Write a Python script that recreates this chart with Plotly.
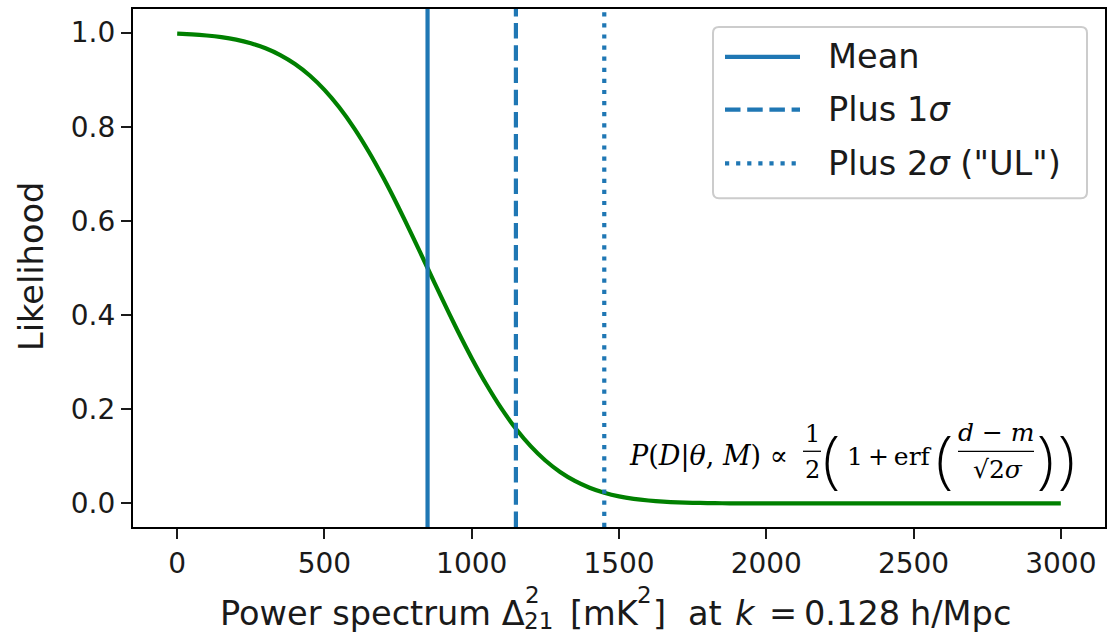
import plotly.graph_objects as go

# Likelihood curve samples
power = [0, 50, 100, 150, 200, 250, 300, 350, 400, 450, 500, 550, 600, 650, 700, 750,
         800, 850, 900, 950, 1000, 1050, 1100, 1150, 1200, 1250, 1300, 1350, 1400, 1450,
         1500, 1550, 1600, 1650, 1700, 1750, 1800, 1850, 1900, 2000, 2200, 2400, 2600,
         2800, 3000]
likelihood = [0.9977, 0.9962, 0.9938, 0.9902, 0.9849, 0.9772, 0.9666, 0.9522, 0.9332,
              0.9088, 0.8783, 0.8413, 0.7977, 0.7475, 0.6915, 0.6306, 0.5662, 0.5000,
              0.4338, 0.3694, 0.3085, 0.2525, 0.2023, 0.1587, 0.1217, 0.0912, 0.0668,
              0.0478, 0.0334, 0.0228, 0.0151, 0.0098, 0.0062, 0.0038, 0.0023, 0.0013,
              0.0008, 0.0004, 0.0002, 0.0001, 0.0, 0.0, 0.0, 0.0, 0.0]

# Reference lines
line_names = ["Mean", "Plus 1<i>σ</i>", 'Plus 2<i>σ</i> ("UL")']
line_values = [850, 1150, 1450]
line_dashes = ["solid", "15.5px,6.7px", "4.2px,6.9px"]

x_ticks = [0, 500, 1000, 1500, 2000, 2500, 3000]
y_ticks = [0.0, 0.2, 0.4, 0.6, 0.8, 1.0]
y_tick_text = ["0.0", "0.2", "0.4", "0.6", "0.8", "1.0"]

BLUE = "#1f77b4"
GREEN = "#008000"
INK = "#1a1a1a"
FONT = "DejaVu Sans"
SERIF = "DejaVu Serif"
PAREN = "Open Sans"
TICK_SIZE = 28
LABEL_SIZE = 33.6
SCRIPT_SIZE = 23
LW = 4.2
THIN = "\u2009"

W, H = 1115, 637
L, R, T, B = 133, 10, 7, 110
PW, PH = W - L - R, H - T - B


def px(x):
    return (x - L) / PW


def py(y):
    return 1 - (y - T) / PH


fig = go.Figure()
fig.add_trace(go.Scatter(x=power, y=likelihood, mode="lines",
                         line=dict(color=GREEN, width=LW, shape="spline", smoothing=0.6),
                         showlegend=False, hoverinfo="skip"))

shapes = []
for v, d in zip(line_values, line_dashes):
    shapes.append(dict(type="line", xref="x", yref="y domain", x0=v, x1=v, y0=0, y1=1,
                       line=dict(color=BLUE, width=LW, dash=d)))

# Legend frame with rounded corners
x0, x1, y0, y1 = 713, 1087, 25, 197
r = 6
path = (f"M {px(x0 + r)},{py(y0)} L {px(x1 - r)},{py(y0)} "
        f"Q {px(x1)},{py(y0)} {px(x1)},{py(y0 + r)} L {px(x1)},{py(y1 - r)} "
        f"Q {px(x1)},{py(y1)} {px(x1 - r)},{py(y1)} L {px(x0 + r)},{py(y1)} "
        f"Q {px(x0)},{py(y1)} {px(x0)},{py(y1 - r)} L {px(x0)},{py(y0 + r)} "
        f"Q {px(x0)},{py(y0)} {px(x0 + r)},{py(y0)} Z")
shapes.append(dict(type="path", xref="paper", yref="paper", path=path,
                   fillcolor="rgba(255,255,255,0.8)", line=dict(color="#cccccc", width=2)))

annotations = []
legend_rows = [55, 108, 162]
for name, d, yy in zip(line_names, line_dashes, legend_rows):
    shapes.append(dict(type="line", xref="paper", yref="paper", x0=px(725), x1=px(800),
                       y0=py(yy), y1=py(yy), line=dict(color=BLUE, width=LW, dash=d)))
    annotations.append(dict(xref="paper", yref="paper", x=px(826), y=py(yy), text=name,
                            showarrow=False, xanchor="left", yanchor="middle",
                            font=dict(family=FONT, size=LABEL_SIZE, color=INK)))


def label(x, y, text, size=27, family=SERIF, anchor="center", weight="normal", angle=0,
          color="black"):
    annotations.append(dict(xref="paper", yref="paper", x=px(x), y=py(y), text=text,
                            showarrow=False, xanchor=anchor, yanchor="middle",
                            textangle=angle,
                            font=dict(family=family, size=size, color=color,
                                      weight=weight)))


def rule(xa, xb, y):
    shapes.append(dict(type="line", xref="paper", yref="paper", x0=px(xa), x1=px(xb),
                       y0=py(y), y1=py(y), line=dict(color="black", width=1.3)))


# Likelihood formula
label(627, 456, "<i>P</i>(<i>D</i>|<i>θ</i>, <i>M</i>) ∝", anchor="left")
label(812, 434, "1", size=24)
rule(803, 821, 451)
label(812, 470, "2", size=24)
label(831, 457, "(", size=62, family=PAREN, weight=300)
label(845, 456, f"1{THIN}+{THIN}erf", size=25, anchor="left")
label(944, 457, "(", size=62, family=PAREN, weight=300)
label(996, 432, "<i>d</i> − <i>m</i>", size=25)
rule(958, 1034, 451)
label(998, 469, "√2<i>σ</i>", size=25)
label(1045, 457, ")", size=62, family=PAREN, weight=300)
label(1066, 457, ")", size=62, family=PAREN, weight=300)

# x-axis title, set piece by piece so the scripts stack and spacing follows math layout
x_title = [
    (218, 614, "Power spectrum Δ", LABEL_SIZE),
    (523, 595, "2", SCRIPT_SIZE),
    (522, 621, "21", SCRIPT_SIZE),
    (568, 614, "[mK", LABEL_SIZE),
    (635, 595, "2", SCRIPT_SIZE),
    (651, 614, "]", LABEL_SIZE),
    (686, 614, "at", LABEL_SIZE),
    (733, 614, "<i>k</i>", LABEL_SIZE),
    (767, 614, "=", LABEL_SIZE),
    (802, 614, "0.128", LABEL_SIZE),
    (908, 614, "h/Mpc", LABEL_SIZE),
]
for xx, yy, txt, sz in x_title:
    label(xx, yy, txt, size=sz, family=FONT, anchor="left", color=INK)

label(31, 266, "Likelihood", size=LABEL_SIZE, family=FONT, angle=-90, color=INK)

axis_common = dict(showgrid=False, zeroline=False, showline=True, linecolor="black",
                   linewidth=2.2, mirror=True, ticks="outside", ticklen=10, tickwidth=2.2,
                   tickcolor=INK, tickfont=dict(family=FONT, size=TICK_SIZE, color=INK))

fig.update_layout(
    width=W, height=H,
    margin=dict(l=L, r=R, t=T, b=B),
    plot_bgcolor="white", paper_bgcolor="white",
    showlegend=False,
    shapes=shapes, annotations=annotations,
    xaxis=dict(range=[-150, 3150], tickvals=x_ticks, **axis_common),
    yaxis=dict(range=[-0.05, 1.05], tickvals=y_ticks, ticktext=y_tick_text, **axis_common),
)

fig.write_html("out.html")
